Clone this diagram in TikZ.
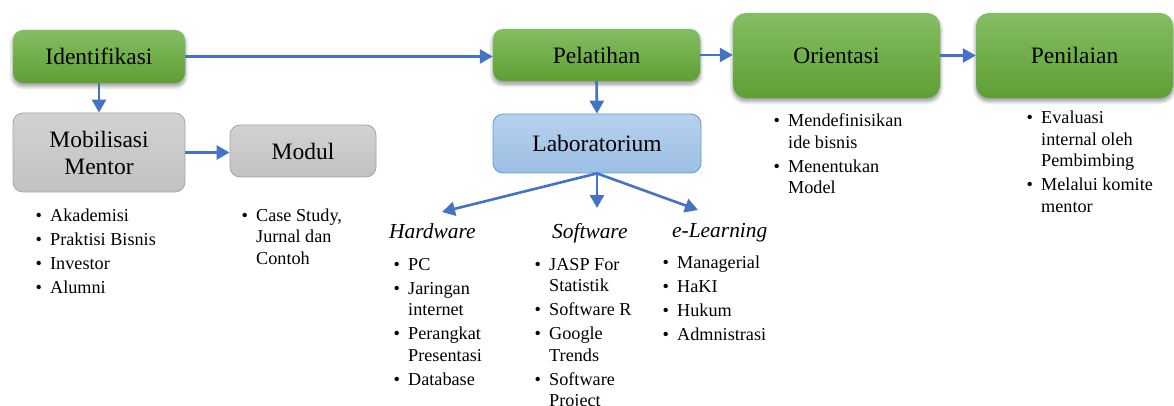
\documentclass[tikz,border=0pt]{standalone}
\usepackage{fontspec}
\setmainfont{LiberationSerif}[Extension=.ttf, UprightFont=*-Regular, ItalicFont=*-Italic, BoldFont=*-Bold, BoldItalicFont=*-BoldItalic]
\usetikzlibrary{arrows.meta,shadows.blur}
\definecolor{flowblue}{HTML}{4472C4}
\definecolor{greentop}{HTML}{84BE63}
\definecolor{greenbot}{HTML}{5E9F33}
\definecolor{graytop}{HTML}{D2D2D2}
\definecolor{graybot}{HTML}{C2C2C2}
\definecolor{grayline}{HTML}{A5A5A5}
\definecolor{bluetop}{HTML}{B7D1EC}
\definecolor{bluebot}{HTML}{9CBFE5}
\definecolor{blueline}{HTML}{5B9BD5}
% one bullet cell of a list
\newcommand\bul{\makebox[14.5pt][l]{\textbullet}}
\tikzset{
  boxtext/.style={font=\fontsize{23.5}{27}\selectfont, align=center, inner sep=0pt},
  greenbox/.style={boxtext, rounded corners=10pt, top color=greentop, bottom color=greenbot,
    draw=none, blur shadow={shadow xshift=0pt, shadow yshift=-3pt, shadow blur steps=8, shadow blur radius=4pt, shadow opacity=45}},
  graybox/.style={boxtext, rounded corners=10pt, top color=graytop, bottom color=graybot,
    draw=grayline, line width=0.8pt},
  bluebox/.style={boxtext, rounded corners=10pt, top color=bluetop, bottom color=bluebot,
    draw=blueline, line width=0.8pt},
  flow/.style={draw=flowblue, line width=2.6pt, -{Triangle[width=14pt,length=13pt]}},
  listtext/.style={anchor=base west, inner sep=0pt, font=\fontsize{18.2}{21.5}\selectfont},
  headtext/.style={anchor=base west, inner sep=0pt, font=\fontsize{21.4}{25}\selectfont\itshape}
}
\begin{document}
\begin{tikzpicture}[x=1pt,y=-1pt]
\useasboundingbox (0,0) rectangle (1174,406);

% stages
\node[greenbox, minimum width=172pt, minimum height=53pt] (ident) at (99,56.5) {Identifikasi};
\node[graybox, minimum width=172pt, minimum height=79pt] (mob) at (99,152.5) {Mobilisasi\\Mentor};
\node[graybox, minimum width=146pt, minimum height=52pt] (modul) at (303,151) {Modul};
\node[greenbox, minimum width=207pt, minimum height=52pt] (pel) at (596.5,55) {Pelatihan};
\node[bluebox, minimum width=208pt, minimum height=59pt] (lab) at (597,143.5) {Laboratorium};
\node[greenbox, rounded corners=13pt, minimum width=207pt, minimum height=85pt] (ori) at (836.5,55.5) {Orientasi};
\node[greenbox, rounded corners=13pt, minimum width=197pt, minimum height=85pt] (pen) at (1074.5,55.5) {Penilaian};

% laboratorium branches
\node[headtext] (hw) at (389,238) {Hardware};
\node[headtext] (sw) at (552,238) {Software};
\node[headtext] (el) at (672,237) {e-Learning};
\coordinate (hwtip) at (442,212);
\coordinate (swtip) at (597,208);
\coordinate (eltip) at (698,210);

% connectors
\draw[flow] (ident.east) -- (ident.east -| pel.west);
\draw[flow] (ident.south) -- (mob.north);
\draw[flow] (mob.east) -- (mob.east -| modul.west);
\draw[flow] (pel.south) -- (lab.north);
\draw[flow] (pel.east) -- (pel.east -| ori.west);
\draw[flow] (ori.east) -- (pen.west);
\draw[flow] (lab.south) -- (hwtip);
\draw[flow] (lab.south) -- (swtip);
\draw[flow] (lab.south) -- (eltip);

% bullet lists
\node[listtext] (lmob) at (35.5,221) {\begin{tabular}[t]{@{}l@{}l@{}}
\bul & Akademisi\\[2.5pt]
\bul & Praktisi Bisnis\\[2.5pt]
\bul & Investor\\[2.5pt]
\bul & Alumni
\end{tabular}};
\node[listtext] (lmodul) at (241.5,221) {\begin{tabular}[t]{@{}l@{}l@{}}
\bul & Case Study,\\
 & Jurnal dan\\
 & Contoh
\end{tabular}};
\node[listtext] (lhw) at (393.5,270) {\begin{tabular}[t]{@{}l@{}l@{}}
\bul & PC\\[2.5pt]
\bul & Jaringan\\
 & internet\\[2.5pt]
\bul & Perangkat\\
 & Presentasi\\[2.5pt]
\bul & Database
\end{tabular}};
\node[listtext] (lsw) at (534.5,270) {\begin{tabular}[t]{@{}l@{}l@{}}
\bul & JASP For\\
 & Statistik\\[2.5pt]
\bul & Software R\\[2.5pt]
\bul & Google\\
 & Trends\\[2.5pt]
\bul & Software\\
 & Project
\end{tabular}};
\node[listtext] (lel) at (662.5,268) {\begin{tabular}[t]{@{}l@{}l@{}}
\bul & Managerial\\[2.5pt]
\bul & HaKI\\[2.5pt]
\bul & Hukum\\[2.5pt]
\bul & Admnistrasi
\end{tabular}};
\node[listtext] (lori) at (773.5,127) {\begin{tabular}[t]{@{}l@{}l@{}}
\bul & Mendefinisikan\\
 & ide bisnis\\[2.5pt]
\bul & Menentukan\\
 & Model
\end{tabular}};
\node[listtext] (lpen) at (1026.5,124) {\begin{tabular}[t]{@{}l@{}l@{}}
\bul & Evaluasi\\
 & internal oleh\\
 & Pembimbing\\[2.5pt]
\bul & Melalui komite\\
 & mentor
\end{tabular}};
\end{tikzpicture}
\end{document}
